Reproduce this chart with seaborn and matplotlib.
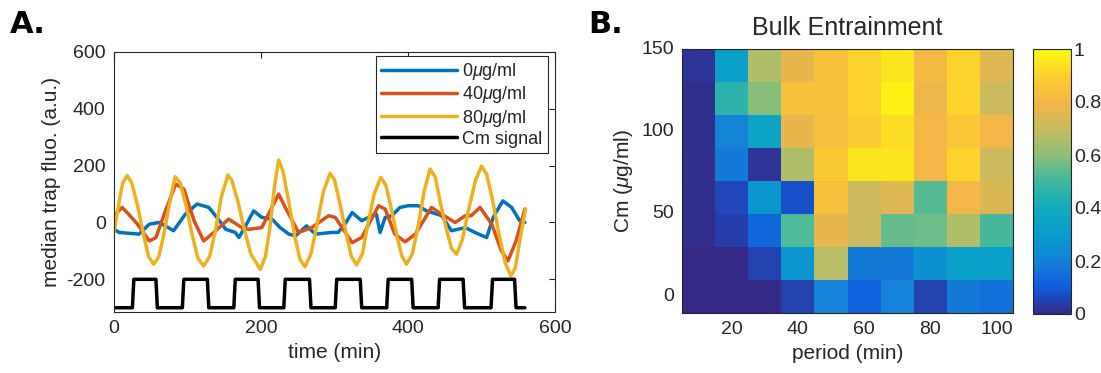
import numpy as np
import pandas as pd
import matplotlib
matplotlib.use("Agg")
import matplotlib.pyplot as plt
from matplotlib.colors import LinearSegmentedColormap
import seaborn as sns

sns.set_theme(style="white")
plt.rcParams['font.family'] = ['Liberation Sans', 'DejaVu Sans']
plt.rcParams['mathtext.fontset'] = 'custom'
plt.rcParams['mathtext.rm'] = 'Liberation Sans'
plt.rcParams['mathtext.it'] = 'Liberation Sans:italic'
plt.rcParams['axes.linewidth'] = 0.8
plt.rcParams['axes.edgecolor'] = '0.15'
plt.rcParams['axes.unicode_minus'] = False

# --- panel A: trap fluorescence traces ---
t_0 = [0, 7, 34, 48, 61, 70, 81, 97, 113, 129, 140, 152, 165, 170, 179, 190, 201, 215,
       226, 238, 247, 262, 274, 296, 305, 314, 324, 337, 351, 357, 362, 369, 378, 389,
       400, 414, 425, 446, 459, 478, 491, 507, 516, 529, 541, 552, 559]
v_0 = [-24, -35, -41, -6, 0, -12, -29, 29, 65, 53, 18, -24, -35, -53, -12, 41, 18, 12,
       -18, -41, -47, -12, -41, -35, -35, -6, 35, 6, 24, 29, -35, 18, 24, 53,
       59, 59, 41, 24, -29, -18, -35, -53, 18, 76, 53, 6, 0]

t_40 = [0, 11, 20, 32, 48, 57, 70, 84, 95, 109, 122, 133, 156, 174, 183, 201, 224, 233,
        251, 269, 292, 301, 324, 337, 360, 369, 382, 396, 410, 432, 446, 464, 478, 486,
        498, 514, 527, 536, 547, 559]
v_40 = [24, 53, 29, -6, -65, -53, 41, 135, 118, 6, -65, -41, 12, -18, -24, -18, 100, 53,
        -35, -18, 24, 18, -71, -53, 59, 47, -41, -68, -41, 53, 29, 0, 24, 24,
        53, -6, -100, -135, -65, 47]

t_80 = [0, 6, 12, 18, 24, 32, 40, 47, 54, 61, 68, 75, 83, 90, 98, 106, 114, 122, 130, 138,
        146, 155, 160, 168, 176, 186, 199, 206, 212, 218, 224, 230, 238, 246, 253, 260,
        268, 276, 285, 294, 300, 308, 316, 323, 330, 338, 345, 354, 363, 370, 378, 386,
        392, 398, 406, 414, 422, 430, 437, 444, 452, 459, 466, 474, 482, 492, 500, 507,
        515, 523, 532, 540, 546, 553, 560]
v_80 = [-35, 60, 140, 165, 140, 60, -40, -120, -147, -120, -40, 60, 161, 140, 60, -40, -125,
        -153, -120, -30, 90, 167, 150, 80, -10, -110, -165, -120, -20, 120, 220, 180, 70,
        -50, -130, -156, -110, -10, 110, 173, 150, 60, -40, -120, -149, -110, -10, 100, 159,
        130, 40, -60, -120, -147, -110, -10, 110, 188, 160, 70, -20, -90, -112, -60, 40,
        150, 198, 170, 80, -30, -140, -188, -160, -50, 47]

# Cm pulses: switch-on / switch-off times (min) and the two drawn levels
cm_on = [25, 93, 163, 231, 301, 371, 441, 513]
cm_off = [57, 127, 196, 266, 335, 405, 475, 545]
cm_end = 559
cm_low, cm_high = -300, -200
ramp = 2

series_names = [r'0$\mu$g/ml', r'40$\mu$g/ml', r'80$\mu$g/ml', 'Cm signal']
series_colors = ['#0072BD', '#D95319', '#EDB120', 'black']

# --- panel B: entrainment matrix, rows from Cm = 0 upward ---
periods = [10, 20, 30, 40, 50, 60, 70, 80, 90, 100]
cm_doses = [0, 20, 40, 60, 80, 100, 120, 140]
entrain = [
    [0.00, 0.00, 0.00, 0.05, 0.20, 0.12, 0.20, 0.05, 0.18, 0.16],
    [0.00, 0.00, 0.05, 0.28, 0.67, 0.18, 0.18, 0.25, 0.33, 0.33],
    [0.01, 0.04, 0.13, 0.52, 0.77, 0.71, 0.55, 0.56, 0.66, 0.51],
    [0.01, 0.06, 0.28, 0.08, 0.84, 0.71, 0.75, 0.53, 0.80, 0.74],
    [0.01, 0.18, 0.02, 0.66, 0.87, 0.95, 0.95, 0.80, 0.91, 0.71],
    [0.01, 0.21, 0.35, 0.77, 0.83, 0.88, 0.93, 0.80, 0.86, 0.80],
    [0.01, 0.46, 0.59, 0.84, 0.84, 0.91, 0.98, 0.78, 0.91, 0.71],
    [0.02, 0.33, 0.66, 0.77, 0.84, 0.91, 0.95, 0.81, 0.91, 0.75],
]

# parula-like colour map
parula = LinearSegmentedColormap.from_list("parula", [
    (0.0, '#352a87'), (0.1, '#0f5cdd'), (0.2, '#1482d6'), (0.3, '#089bce'),
    (0.4, '#11abbc'), (0.5, '#3eb8a0'), (0.6, '#8dbf78'), (0.7, '#c8bb5f'),
    (0.8, '#f3b647'), (0.9, '#fbcf2e'), (1.0, '#f9fb0e')])

# build the Cm signal trace from the switch times
sig_t, sig_v = [0], [cm_low]
for on, off in zip(cm_on, cm_off):
    sig_t += [on, on + ramp, off, off + ramp]
    sig_v += [cm_low, cm_high, cm_high, cm_low]
sig_t.append(cm_end)
sig_v.append(cm_low)

frames = []
for name, tt, vv in zip(series_names, [t_0, t_40, t_80, sig_t], [v_0, v_40, v_80, sig_v]):
    frames.append(pd.DataFrame({'time': tt, 'value': vv, 'series': name}))
df = pd.concat(frames, ignore_index=True)

fig = plt.figure(figsize=(11.01, 3.73), dpi=100)
W, H = 1101, 373
ax1 = fig.add_axes([114 / W, 1 - 312 / H, 441 / W, 260 / H])
ax2 = fig.add_axes([682 / W, 1 - 313 / H, 331 / W, 264 / H])
cax = fig.add_axes([1033 / W, 1 - 314 / H, 38 / W, 265 / H])

sns.lineplot(data=df, x='time', y='value', hue='series', hue_order=series_names,
             palette=series_colors, linewidth=2.5, estimator=None, sort=False,
             legend=False, ax=ax1)
ax1.set_xlim(0, 600)
ax1.set_ylim(-315, 600)
ax1.set_xticks([0, 200, 400, 600])
ax1.set_yticks([-200, 0, 200, 400, 600])
ax1.tick_params(direction='in', top=True, right=True, length=4, width=0.8,
                labelsize=14, color='0.15', pad=6)
ax1.set_xlabel("time (min)", fontsize=15)
ax1.set_ylabel("median trap fluo. (a.u.)", fontsize=15)
leg = ax1.legend(ax1.lines[:4], series_names, loc='upper right',
                 bbox_to_anchor=(0.984, 0.985), borderaxespad=0, fontsize=13,
                 handlelength=4.2, handletextpad=0.3, labelspacing=0.12,
                 borderpad=0.3, fancybox=False, framealpha=1, edgecolor='0.15')
leg.get_frame().set_linewidth(0.8)

# heatmap
mat = pd.DataFrame(entrain[::-1], index=cm_doses[::-1], columns=periods)
sns.heatmap(mat, cmap=parula, vmin=0, vmax=1, ax=ax2, cbar_ax=cax,
            cbar_kws={'ticks': [0, 0.2, 0.4, 0.6, 0.8, 1.0]})
for s in ax2.spines.values():
    s.set_visible(True)
    s.set_linewidth(0.8)
    s.set_color('0.15')

p_step = periods[1] - periods[0]
c_step = cm_doses[1] - cm_doses[0]
x_ticks = [20, 40, 60, 80, 100]
y_ticks = [0, 50, 100, 150]
ax2.set_xticks([(p - (periods[0] - p_step / 2)) / p_step for p in x_ticks])
ax2.set_xticklabels([str(p) for p in x_ticks], rotation=0)
ax2.set_yticks([((cm_doses[-1] + c_step / 2) - c) / c_step for c in y_ticks])
ax2.set_yticklabels([str(c) for c in y_ticks], rotation=0)
ax2.tick_params(direction='in', top=True, right=True, bottom=True, left=True,
                length=4, width=0.8, labelsize=14, color='0.15', pad=6)
ax2.set_xlabel("period (min)", fontsize=15)
ax2.set_ylabel(r"Cm ($\mu$g/ml)", fontsize=15)
ax2.set_title("Bulk Entrainment", fontsize=18, pad=10)

cb = ax2.collections[0].colorbar
cb.outline.set_visible(True)
cb.outline.set_linewidth(0.8)
cb.outline.set_edgecolor('0.15')
cb.set_ticklabels(['0', '0.2', '0.4', '0.6', '0.8', '1'])
cax.tick_params(direction='in', length=4, width=0.8, labelsize=14, color='0.15', pad=2)

fig.text(10 / W, 1 - 33 / H, "A.", fontsize=22, fontweight='bold', color='black',
         family='DejaVu Sans', va='baseline')
fig.text(588 / W, 1 - 33 / H, "B.", fontsize=22, fontweight='bold', color='black',
         family='DejaVu Sans', va='baseline')

fig.savefig("out.png", dpi=100)
